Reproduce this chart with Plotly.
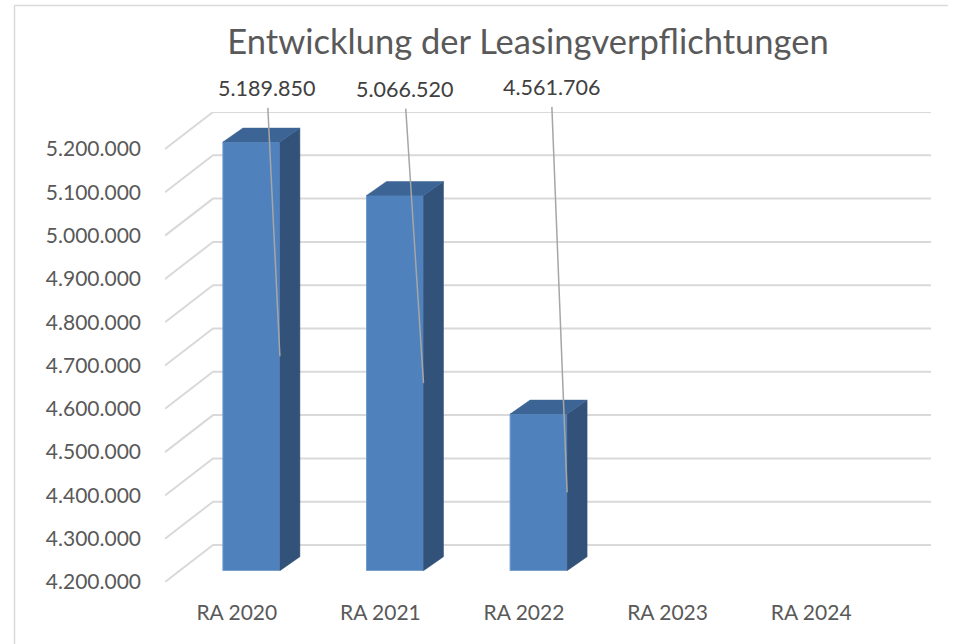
import plotly.graph_objects as go

TITLE = "Entwicklung der Leasingverpflichtungen"
CATEGORIES = ["RA 2020", "RA 2021", "RA 2022", "RA 2023", "RA 2024"]
VALUES = [5189850, 5066520, 4561706, None, None]
LABELS = ["5.189.850", "5.066.520", "4.561.706"]
TICK_VALUES = [4200000, 4300000, 4400000, 4500000, 4600000, 4700000,
               4800000, 4900000, 5000000, 5100000, 5200000]
TICK_TEXT = ["4.200.000", "4.300.000", "4.400.000", "4.500.000", "4.600.000", "4.700.000",
             "4.800.000", "4.900.000", "5.000.000", "5.100.000", "5.200.000"]

W, H = 958, 644
FONT = "Lato"
TEXT = "#595959"

# pixel layout of the plot frame
L, R, T, B, BAR_B = 165, 931, 112, 582, 570.7
PX_PER_CAT = 143.6
PX_PER_UNIT = 433 / 1e6

WALL_DX = 48 / PX_PER_CAT
WALL_DV = 37 / PX_PER_UNIT
BAR_SHIFT = 14.6 / PX_PER_CAT
BAR_W = 57 / PX_PER_CAT
BAR_DX = 20 / PX_PER_CAT
BAR_DV = 14 / PX_PER_UNIT
VMIN = TICK_VALUES[0]
xmin, xmax = -0.5, -0.5 + (R - L) / PX_PER_CAT

fig = go.Figure()

# gridlines: along the side wall, then along the back wall
for v in TICK_VALUES:
    fig.add_trace(go.Scatter(
        x=[xmin, xmin + WALL_DX, xmax], y=[v, v + WALL_DV, v + WALL_DV],
        mode="lines", line=dict(color="#d9d9d9", width=2), cliponaxis=False,
        hoverinfo="skip", showlegend=False, xaxis="x", yaxis="y"))

# bar faces
for i, v in enumerate(VALUES):
    if v is None:
        continue
    xl, xr = i - BAR_W / 2, i + BAR_W / 2
    fig.add_trace(go.Scatter(
        x=[xr, xr + BAR_DX, xr + BAR_DX, xr, xr],
        y=[VMIN, VMIN + BAR_DV, v + BAR_DV, v, VMIN],
        mode="lines", fill="toself", fillcolor="#325279",
        line=dict(color="#325279", width=0.5), hoverinfo="skip",
        showlegend=False, xaxis="x2", yaxis="y2"))
    fig.add_trace(go.Scatter(
        x=[xl, xl + BAR_DX, xr + BAR_DX, xr, xl],
        y=[v, v + BAR_DV, v + BAR_DV, v, v],
        mode="lines", fill="toself", fillcolor="#3c6494",
        line=dict(color="#3c6494", width=0.5), hoverinfo="skip",
        showlegend=False, xaxis="x2", yaxis="y2"))

fig.add_trace(go.Bar(
    x=list(range(len(CATEGORIES))), y=VALUES, width=BAR_W,
    marker=dict(color="#4f81bd", line=dict(color="#6f9bd1", width=1)),
    showlegend=False, xaxis="x2", yaxis="y2"))

# data labels with leader lines, anchored mid-bar on the right front edge
LABEL_OFFSETS = [(-13, -268), (-19, -294), (-16, -405)]
annotations = []
for i, (text, (ax, ay)) in enumerate(zip(LABELS, LABEL_OFFSETS)):
    annotations.append(dict(
        x=i + BAR_W / 2, y=(VALUES[i] + VMIN) / 2, xref="x2", yref="y2",
        text=text, showarrow=True, arrowhead=0, arrowwidth=1.5, arrowcolor="#a6a6a6",
        ax=ax, ay=ay, axref="pixel", ayref="pixel", borderpad=6,
        font=dict(family=FONT, size=21.5, color="#404040")))

fig.update_layout(
    width=W, height=H, margin=dict(l=0, r=0, t=0, b=0),
    paper_bgcolor="white", plot_bgcolor="rgba(0,0,0,0)",
    font=dict(family=FONT, color=TEXT),
    title=dict(text=TITLE, x=528 / W, xanchor="center", y=1 - 42 / H, yanchor="middle",
               font=dict(family=FONT, size=34.5, color=TEXT)),
    showlegend=False, annotations=annotations,
    xaxis=dict(domain=[L / W, R / W], range=[xmin, xmax], showgrid=False, zeroline=False,
               automargin=False, showline=False, tickmode="array",
               tickvals=list(range(len(CATEGORIES))),
               ticktext=CATEGORIES, ticks="", ticklabelstandoff=16,
               tickfont=dict(family=FONT, size=21, color=TEXT)),
    yaxis=dict(domain=[(H - B) / H, (H - T) / H], automargin=False,
               range=[VMIN, VMIN + (B - T) / PX_PER_UNIT], showgrid=False, zeroline=False,
               showline=False, tickmode="array", tickvals=TICK_VALUES, ticktext=TICK_TEXT,
               ticks="", ticklabelstandoff=23,
               tickfont=dict(family=FONT, size=21, color=TEXT)),
    xaxis2=dict(domain=[L / W, R / W], range=[xmin - BAR_SHIFT, xmax - BAR_SHIFT],
                anchor="y2", visible=False, automargin=False),
    yaxis2=dict(domain=[(H - BAR_B) / H, (H - T) / H], automargin=False,
                range=[VMIN, VMIN + (BAR_B - T) / PX_PER_UNIT],
                anchor="x2", visible=False),
    shapes=[
        dict(type="line", xref="paper", yref="paper", x0=14.5 / W, x1=14.5 / W, y0=0, y1=1 - 5.5 / H,
             line=dict(color="#d9d9d9", width=1.5)),
        dict(type="line", xref="paper", yref="paper", x0=14.5 / W, x1=948 / W, y0=1 - 5.5 / H, y1=1 - 5.5 / H,
             line=dict(color="#d9d9d9", width=1.5)),
    ],
)

fig.write_html("out.html", config={"displayModeBar": False},
               post_script="document.body.style.margin='0';")
